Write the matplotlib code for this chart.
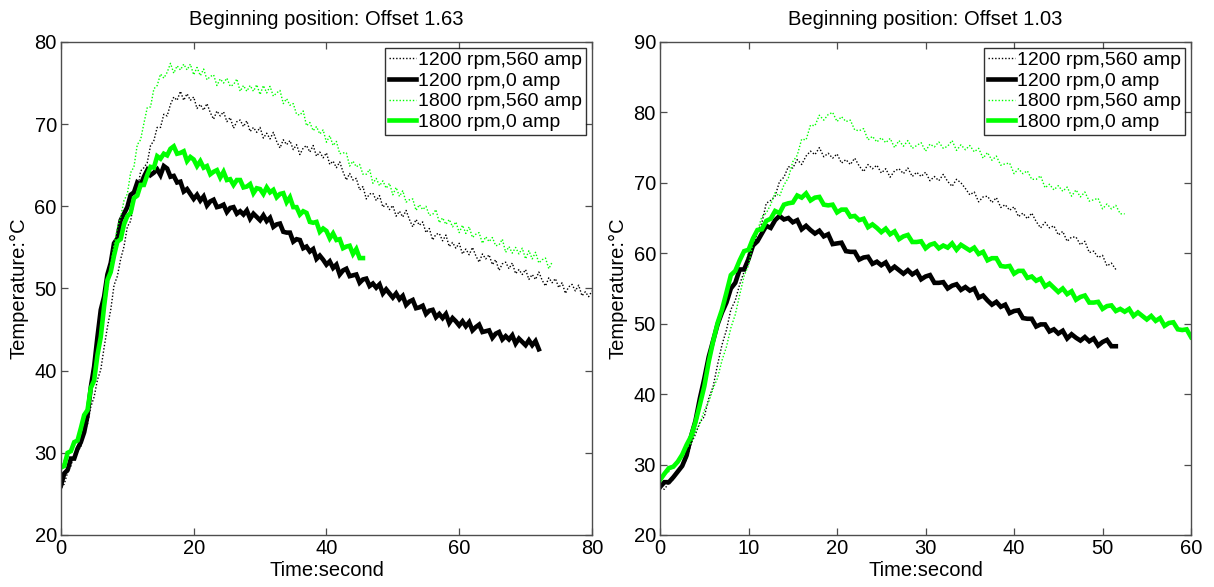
import numpy as np
import matplotlib
matplotlib.use("Agg")
import matplotlib.pyplot as plt

plt.rcParams['font.family'] = ['Liberation Sans', 'DejaVu Sans']

# Sampling interval of the logged temperature traces (seconds)
DT = 0.5

# ---------------- Offset 1.63 ----------------
left_title = "Beginning position: Offset 1.63"

left_1200_560 = [
    25.8, 26.2, 27.6, 28.4, 29.9, 30.2, 30.7, 32.5, 33.5, 35.6,
    36.8, 38.9, 40.1, 42.8, 45.3, 47.4, 50.4, 51.5, 53.6, 55.1,
    57.5, 58.2, 60.7, 61.7, 64.3, 64.7, 65.3, 67.4, 68.0, 69.6,
    69.6, 71.2, 71.0, 72.4, 73.3, 72.9, 74.0, 72.9, 73.7, 72.9,
    73.3, 71.9, 72.4, 71.7, 72.5, 71.4, 70.6, 71.6, 71.0, 71.5,
    70.3, 70.8, 69.5, 70.3, 70.5, 69.7, 70.4, 69.1, 69.6, 69.0,
    69.6, 68.3, 68.9, 68.2, 69.0, 67.9, 67.1, 68.1, 67.5, 68.0,
    66.9, 67.5, 66.3, 67.1, 67.4, 66.6, 67.4, 66.1, 66.6, 65.9,
    66.5, 65.1, 65.5, 64.7, 65.4, 64.2, 63.2, 64.0, 63.2, 63.4,
    62.0, 62.4, 60.9, 61.5, 61.6, 60.7, 61.3, 59.9, 60.3, 59.6,
    60.1, 58.8, 59.4, 58.7, 59.5, 58.4, 57.5, 58.4, 57.7, 58.1,
    56.8, 57.3, 55.9, 56.6, 56.7, 55.8, 56.5, 55.1, 55.6, 54.9,
    55.5, 54.2, 54.8, 54.1, 55.0, 54.0, 53.2, 54.2, 53.6, 54.1,
    52.9, 53.5, 52.2, 53.0, 53.2, 52.4, 53.1, 51.8, 52.3, 51.7,
    52.3, 51.1, 51.7, 51.1, 52.0, 51.0, 50.3, 51.3, 50.7, 51.2,
    50.1, 50.7, 49.4, 50.2, 50.5, 49.7, 50.4, 49.1, 49.6, 49.0,
    49.7,
]

left_1200_0 = [
    26.0, 27.5, 27.9, 29.3, 29.3, 30.5, 31.3, 32.5, 34.5, 38.0,
    40.5, 44.1, 47.4, 49.0, 51.7, 53.1, 55.5, 56.1, 58.3, 59.1,
    59.9, 61.4, 61.7, 62.9, 62.6, 63.6, 64.4, 63.8, 64.1, 64.5,
    63.8, 64.9, 64.6, 63.6, 63.7, 62.9, 63.0, 61.8, 62.1, 61.5,
    60.9, 61.4, 60.7, 61.2, 60.1, 60.6, 60.8, 59.9, 60.0, 60.2,
    59.3, 59.8, 59.9, 59.1, 59.4, 59.0, 59.5, 58.5, 59.1, 58.7,
    58.3, 58.9, 58.2, 58.6, 57.5, 57.8, 57.9, 56.9, 56.8, 56.8,
    55.7, 56.0, 55.9, 54.9, 55.1, 54.5, 54.8, 53.6, 54.0, 53.5,
    52.9, 53.3, 52.5, 52.9, 51.7, 52.2, 52.4, 51.5, 51.6, 51.7,
    50.7, 51.1, 51.2, 50.3, 50.6, 50.1, 50.5, 49.4, 49.9, 49.4,
    48.9, 49.4, 48.7, 49.1, 48.0, 48.4, 48.6, 47.6, 47.7, 47.9,
    46.9, 47.3, 47.4, 46.5, 46.9, 46.4, 46.9, 45.8, 46.4, 46.0,
    45.5, 46.0, 45.4, 45.9, 44.9, 45.3, 45.6, 44.7, 44.8, 44.9,
    44.0, 44.5, 44.7, 43.8, 44.2, 43.8, 44.3, 43.3, 43.9, 43.5,
    43.1, 43.7, 43.1, 43.6, 42.6,
]

left_1800_560 = [
    27.8, 29.1, 29.4, 30.6, 30.8, 32.0, 33.3, 33.9, 35.7, 37.2,
    39.3, 41.4, 44.0, 47.4, 49.7, 52.9, 55.3, 57.4, 58.7, 60.7,
    61.5, 64.1, 64.8, 67.5, 68.1, 70.1, 72.0, 72.1, 74.3, 74.7,
    76.1, 75.6, 76.3, 77.4, 76.2, 77.1, 76.6, 77.3, 76.6, 77.3,
    76.0, 76.9, 75.9, 76.7, 75.4, 75.8, 76.0, 74.7, 75.5, 75.0,
    75.6, 74.6, 74.8, 75.5, 74.0, 74.7, 74.0, 74.7, 74.0, 74.8,
    73.6, 74.7, 73.8, 74.6, 73.4, 73.8, 74.1, 72.5, 73.1, 72.3,
    72.5, 71.2, 71.1, 71.6, 69.8, 70.2, 69.2, 69.7, 68.8, 69.3,
    67.8, 68.6, 67.4, 67.9, 66.4, 66.5, 66.5, 64.9, 65.5, 64.8,
    65.1, 63.9, 63.9, 64.5, 62.8, 63.4, 62.5, 63.1, 62.2, 62.8,
    61.4, 62.3, 61.2, 61.9, 60.5, 60.8, 60.9, 59.5, 60.2, 59.6,
    60.0, 58.9, 59.0, 59.6, 58.0, 58.6, 57.8, 58.4, 57.5, 58.1,
    56.8, 57.7, 56.7, 57.5, 56.2, 56.6, 56.8, 55.5, 56.3, 55.7,
    56.2, 55.2, 55.3, 56.0, 54.4, 55.1, 54.3, 55.0, 54.2, 54.9,
    53.6, 54.6, 53.6, 54.4, 53.1, 53.5, 53.7, 52.4, 53.2,
]

left_1800_0 = [
    28.2, 28.4, 30.0, 30.2, 31.3, 31.5, 33.0, 34.6, 35.2, 37.9,
    38.8, 41.9, 44.1, 47.8, 51.0, 52.0, 54.0, 55.7, 56.0, 57.8,
    58.8, 59.2, 61.0, 61.3, 62.6, 62.6, 63.8, 64.8, 64.7, 66.1,
    65.8, 66.4, 66.2, 67.0, 67.3, 66.4, 66.5, 66.7, 65.5, 66.0,
    65.7, 64.9, 65.5, 64.7, 64.9, 63.9, 64.2, 64.4, 63.5, 64.2,
    63.2, 63.3, 62.6, 63.2, 63.2, 62.3, 62.4, 62.7, 61.6, 62.2,
    62.1, 61.5, 62.3, 61.7, 62.0, 61.1, 61.5, 61.6, 60.5, 61.1,
    59.9, 59.9, 59.0, 59.4, 59.2, 58.1, 58.0, 58.1, 56.9, 57.3,
    57.0, 56.1, 56.7, 55.9, 56.0, 54.9, 55.1, 55.2, 54.2, 54.8,
    53.7, 53.7,
]

# ---------------- Offset 1.03 ----------------
right_title = "Beginning position: Offset 1.03"

right_1200_560 = [
    26.6, 26.5, 27.4, 27.9, 29.2, 29.9, 30.7, 32.9, 34.3, 36.0,
    36.8, 39.4, 41.1, 44.2, 47.0, 49.1, 52.0, 53.3, 55.6, 57.4,
    60.0, 60.6, 63.0, 64.3, 67.1, 67.5, 68.1, 70.2, 70.8, 72.3,
    72.1, 73.3, 72.6, 73.8, 74.5, 74.0, 75.0, 73.7, 74.2, 73.5,
    74.1, 72.8, 73.3, 72.6, 73.5, 72.4, 71.6, 72.6, 72.0, 72.5,
    71.4, 72.0, 70.8, 71.7, 72.0, 71.3, 72.1, 70.9, 71.5, 70.9,
    71.5, 70.3, 70.9, 70.3, 71.2, 70.2, 69.5, 70.5, 70.0, 69.2,
    68.3, 68.7, 67.3, 68.0, 68.1, 67.2, 67.9, 66.5, 66.9, 66.1,
    66.6, 65.2, 65.7, 64.9, 65.7, 64.5, 63.6, 64.4, 63.6, 63.9,
    62.6, 63.1, 61.7, 62.3, 62.3, 61.2, 61.7, 60.1, 60.3, 59.4,
    59.7, 58.2, 58.6, 57.7,
]

right_1200_0 = [
    26.8, 27.5, 27.5, 28.2, 29.0, 29.8, 31.3, 34.0, 36.2, 39.4,
    42.2, 45.3, 47.6, 49.9, 51.6, 53.0, 55.0, 55.8, 57.7, 57.7,
    59.2, 61.1, 61.7, 62.8, 63.9, 63.6, 64.7, 65.3, 64.8, 65.0,
    64.4, 64.7, 63.4, 63.9, 63.3, 62.8, 63.2, 62.4, 62.7, 61.3,
    61.4, 61.5, 60.3, 60.2, 60.2, 59.1, 59.4, 59.5, 58.5, 58.8,
    58.3, 58.7, 57.6, 58.1, 57.6, 57.1, 57.6, 57.0, 57.4, 56.3,
    56.7, 56.9, 55.8, 55.8, 55.9, 55.0, 55.4, 55.6, 54.8, 55.2,
    54.7, 55.0, 53.7, 54.0, 53.3, 52.7, 53.1, 52.4, 52.7, 51.5,
    51.8, 51.9, 50.8, 50.7, 50.7, 49.6, 49.9, 49.9, 48.9, 49.2,
    48.6, 49.0, 47.9, 48.5, 48.0, 47.6, 48.1, 47.5, 47.9, 46.9,
    47.4, 47.7, 46.8, 46.8,
]

right_1800_560 = [
    27.5, 28.6, 29.0, 29.9, 30.1, 31.1, 32.4, 33.0, 34.6, 35.8,
    37.7, 38.9, 40.8, 42.3, 44.8, 46.7, 49.4, 51.3, 54.1, 56.8,
    58.3, 61.4, 63.1, 65.2, 65.7, 66.9, 68.6, 68.1, 69.7, 70.7,
    73.0, 73.9, 76.2, 76.1, 78.2, 78.1, 79.6, 78.9, 79.7, 80.0,
    78.7, 79.4, 78.7, 78.9, 77.5, 77.4, 77.7, 76.1, 76.6, 75.8,
    76.4, 75.7, 76.3, 75.0, 76.0, 75.2, 76.0, 74.9, 75.3, 75.7,
    74.5, 75.5, 75.1, 75.8, 74.9, 75.2, 76.0, 74.6, 75.4, 74.7,
    75.3, 74.4, 74.9, 73.5, 74.3, 73.2, 73.8, 72.5, 72.7, 72.8,
    71.3, 72.0, 71.3, 71.7, 70.5, 70.5, 71.0, 69.3, 69.8, 69.0,
    69.6, 68.8, 69.4, 68.1, 69.0, 68.0, 68.7, 67.4, 67.6, 67.8,
    66.3, 67.0, 66.3, 66.8, 65.6, 65.6,
]

right_1800_0 = [
    27.8, 28.7, 29.5, 29.7, 30.4, 31.4, 32.8, 34.0, 36.0, 38.5,
    41.1, 44.6, 47.5, 50.1, 52.0, 54.4, 56.9, 57.5, 59.0, 60.3,
    60.5, 62.1, 63.3, 63.4, 64.6, 64.9, 66.0, 65.7, 66.9, 67.1,
    67.2, 68.2, 67.9, 68.5, 67.5, 67.9, 68.0, 66.9, 66.8, 66.9,
    65.8, 66.2, 66.2, 65.2, 65.3, 64.7, 64.9, 63.7, 64.1, 63.6,
    63.0, 63.5, 62.7, 63.1, 62.0, 62.4, 62.6, 61.6, 61.6, 61.7,
    60.7, 61.2, 61.4, 60.7, 61.1, 60.8, 61.4, 60.5, 61.2, 60.8,
    60.4, 60.8, 59.9, 60.2, 59.0, 59.3, 59.3, 58.2, 58.1, 58.2,
    57.1, 57.5, 57.5, 56.5, 56.7, 56.1, 56.4, 55.3, 55.7, 55.1,
    54.5, 55.0, 54.2, 54.6, 53.4, 53.8, 54.0, 53.0, 53.0, 53.1,
    52.1, 52.5, 52.6, 51.8, 52.1, 51.7, 52.1, 51.1, 51.6, 51.1,
    50.6, 51.1, 50.4, 50.8, 49.7, 50.1, 50.2, 49.2, 49.1, 49.2,
    48.1,
]

labels = ["1200 rpm,560 amp", "1200 rpm,0 amp", "1800 rpm,560 amp", "1800 rpm,0 amp"]

left_xlim, left_ylim = (0, 80), (20, 80)
left_xticks, left_yticks = [0, 20, 40, 60, 80], [20, 30, 40, 50, 60, 70, 80]
right_xlim, right_ylim = (0, 60), (20, 90)
right_xticks, right_yticks = [0, 10, 20, 30, 40, 50, 60], [20, 30, 40, 50, 60, 70, 80, 90]

FS = 14.5
GREEN = "#00ff00"
FRAME = "#4d4d4d"
DOT = (0, (1.0, 1.4))


def draw(ax, series, title, xlim, ylim, xticks, yticks):
    styles = [
        dict(color="black", lw=1.0, ls=DOT),
        dict(color="black", lw=3.3, ls="-"),
        dict(color=GREEN, lw=1.0, ls=DOT),
        dict(color=GREEN, lw=3.3, ls="-"),
    ]
    for vals, st, lab in zip(series, styles, labels):
        t = np.arange(len(vals)) * DT
        ax.plot(t, vals, label=lab, solid_joinstyle="miter", **st)
    ax.set_xlim(*xlim)
    ax.set_ylim(*ylim)
    ax.set_xticks(xticks)
    ax.set_yticks(yticks)
    ax.tick_params(direction="in", top=True, right=True, length=5, width=0.9,
                   color=FRAME, labelsize=FS, pad=3)
    for sp in ax.spines.values():
        sp.set_color(FRAME)
        sp.set_linewidth(1.0)
    ax.set_title(title, fontsize=FS, pad=12)
    ax.set_xlabel("Time:second", fontsize=FS, labelpad=2)
    ax.set_ylabel("Temperature:\u00b0C", fontsize=FS, labelpad=4)
    leg = ax.legend(loc="upper right", fontsize=FS - 0.5, frameon=True, fancybox=False,
                    edgecolor="black", borderpad=0.2, labelspacing=0.15,
                    handlelength=1.4, handletextpad=0.1, borderaxespad=0.3)
    leg.get_frame().set_linewidth(1.0)


fig = plt.figure(figsize=(12.14, 5.87), dpi=100)
ax1 = fig.add_axes([0.0502, 0.0886, 0.4374, 0.8399])
ax2 = fig.add_axes([0.5437, 0.0886, 0.4374, 0.8399])

draw(ax1, [left_1200_560, left_1200_0, left_1800_560, left_1800_0],
     left_title, left_xlim, left_ylim, left_xticks, left_yticks)
draw(ax2, [right_1200_560, right_1200_0, right_1800_560, right_1800_0],
     right_title, right_xlim, right_ylim, right_xticks, right_yticks)

fig.savefig("out.png", dpi=100)
